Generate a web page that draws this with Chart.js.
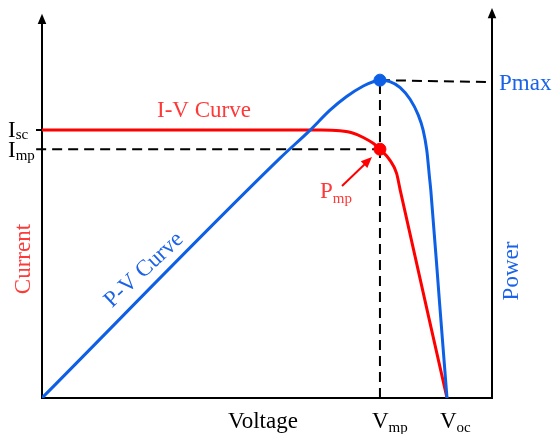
<!DOCTYPE html>
<html>
<head>
<meta charset="utf-8">
<script src="https://cdn.jsdelivr.net/npm/chart.js@4"></script>
<style>
  html, body { margin: 0; padding: 0; background: #fff; }
  #wrap { width: 556px; height: 434px; }
</style>
</head>
<body>
<div id="wrap"><canvas id="chartcanvas"></canvas></div>
<script>
// voltage / current (I-V) and voltage / power (P-V), arbitrary units 0..100
var voltIV    = [0, 62.0, 66.2, 69.2, 71.4, 73.6, 75.1, 77.3, 78.8, 79.6, 90];
var currentIV = [68.7, 68.7, 68.5, 67.9, 66.8, 65.3, 63.8, 61.0, 57.6, 53.3, 0];

var voltPV  = [0, 52.9, 59.6, 64.0, 67.7, 71.4, 73.6, 75.1, 77.3, 79.6, 81.8, 83.6, 84.7, 85.5, 86.1, 86.4, 88.3, 90];
var powerPV = [0, 61.5, 68.7, 73.8, 77.3, 80.0, 81.1, 81.5, 81.1, 79.6, 76.6, 72.6, 68.7, 63.6, 56.7, 53.3, 25.1, 0];

var Vmp = 75.1, Voc = 90, Isc = 68.7, Imp = 63.8, Pmax = 81.5, PmaxEnd = 81.0;

var RED = "#ff0000", BLUE = "#0d5fe6", TRED = "#ff3838", TBLUE = "#1a63e8";
var SERIF = "'Liberation Serif', 'Times New Roman', serif";

function pts(xs, ys) {
	var out = [];
	for (var i in xs) out.push({x: xs[i], y: ys[i]});
	return out;
}

function arrow(ctx, x1, y1, x2, y2, size) {
	var a = Math.atan2(y2 - y1, x2 - x1);
	ctx.beginPath();
	ctx.moveTo(x2, y2);
	ctx.lineTo(x2 - size * Math.cos(a - 0.4), y2 - size * Math.sin(a - 0.4));
	ctx.lineTo(x2 - size * Math.cos(a + 0.4), y2 - size * Math.sin(a + 0.4));
	ctx.closePath();
	ctx.fill();
}

function sub(ctx, main, small, x, y, color, big, sm, drop) {
	ctx.fillStyle = color;
	ctx.font = big + "px " + SERIF;
	ctx.fillText(main, x, y);
	var w = ctx.measureText(main).width;
	ctx.font = sm + "px " + SERIF;
	ctx.fillText(small, x + w, y + drop);
}

var axesPlugin = {
	id: "axes",
	beforeDatasetsDraw: function(chart) {
		var ctx = chart.ctx, x = chart.scales.x, y = chart.scales.y;
		var x0 = x.getPixelForValue(0), x1 = x.getPixelForValue(100);
		var y0 = y.getPixelForValue(0);
		var yl = y.getPixelForValue(98.5), yr = y.getPixelForValue(100);
		ctx.save();
		ctx.strokeStyle = "#000";
		ctx.fillStyle = "#000";
		ctx.lineWidth = 2;
		ctx.beginPath();
		ctx.moveTo(x0, yl + 8); ctx.lineTo(x0, y0);
		ctx.lineTo(x1, y0);
		ctx.lineTo(x1, yr + 8);
		// Isc tick
		var yi = y.getPixelForValue(Isc);
		ctx.moveTo(x0 - 6, yi); ctx.lineTo(x0, yi);
		ctx.stroke();
		arrow(ctx, x0, yl + 12, x0, yl, 11);
		arrow(ctx, x1, yr + 12, x1, yr, 11);
		ctx.restore();
	},
	afterDraw: function(chart) {
		var ctx = chart.ctx, x = chart.scales.x, y = chart.scales.y;
		ctx.save();
		ctx.textBaseline = "alphabetic";
		ctx.textAlign = "left";

		sub(ctx, "I", "sc", 8, y.getPixelForValue(Isc) + 7, "#000", 23, 15, 2);
		sub(ctx, "I", "mp", 8, y.getPixelForValue(Imp) + 8, "#000", 23, 15, 3);

		sub(ctx, "V", "mp", x.getPixelForValue(Vmp) - 8, 428, "#000", 23, 15, 4);
		sub(ctx, "V", "oc", x.getPixelForValue(Voc) - 7, 428, "#000", 23, 15, 4);

		ctx.fillStyle = "#000";
		ctx.font = "23px " + SERIF;
		ctx.fillText("Voltage", 228, 428);

		ctx.fillStyle = TRED;
		ctx.fillText("I-V Curve", 157, 117);

		ctx.fillStyle = TBLUE;
		ctx.fillText("Pmax", 499, 90);

		sub(ctx, "P", "mp", 320, 198, TRED, 23, 15, 5);

		// arrow to Pmp
		ctx.strokeStyle = RED;
		ctx.fillStyle = RED;
		ctx.lineWidth = 2;
		ctx.beginPath();
		ctx.moveTo(342, 186);
		ctx.lineTo(366, 163);
		ctx.stroke();
		arrow(ctx, 342, 186, 372, 157, 12);

		ctx.font = "23px " + SERIF;
		ctx.textAlign = "center";
		ctx.textBaseline = "middle";

		ctx.save();
		ctx.translate(24, 259);
		ctx.rotate(-Math.PI / 2);
		ctx.fillStyle = TRED;
		ctx.fillText("Current", 0, 0);
		ctx.restore();

		ctx.save();
		ctx.translate(512, 271);
		ctx.rotate(-Math.PI / 2);
		ctx.fillStyle = TBLUE;
		ctx.fillText("Power", 0, 0);
		ctx.restore();

		ctx.save();
		ctx.translate(144, 270);
		ctx.rotate(-43 * Math.PI / 180);
		ctx.fillStyle = TBLUE;
		ctx.fillText("P-V Curve", 0, 0);
		ctx.restore();

		ctx.restore();
	}
};

var dashStyle = {
	showLine: true, borderColor: "#000", borderWidth: 2, borderDash: [10, 6],
	pointRadius: 0, fill: false, clip: false
};

var chartdata = {
	datasets: [
		Object.assign({ label: "Imp", data: [{x: -1.3, y: Imp}, {x: Vmp, y: Imp}], order: 5 }, dashStyle),
		Object.assign({ label: "Vmp", data: [{x: Vmp, y: 0}, {x: Vmp, y: Pmax}], order: 5 }, dashStyle),
		Object.assign({ label: "Pmax", data: [{x: Vmp, y: Pmax}, {x: 100, y: PmaxEnd}], order: 5 }, dashStyle),
		{
			label: "I-V Curve",
			data: pts(voltIV, currentIV),
			showLine: true,
			borderColor: RED,
			borderWidth: 3,
			pointRadius: 0,
			cubicInterpolationMode: "monotone",
			fill: false,
			order: 3
		},
		{
			label: "P-V Curve",
			data: pts(voltPV, powerPV),
			yAxisID: "y1",
			showLine: true,
			borderColor: BLUE,
			borderWidth: 3,
			pointRadius: 0,
			cubicInterpolationMode: "monotone",
			fill: false,
			order: 2
		},
		{
			label: "Pmp",
			data: [{x: Vmp, y: Imp}],
			backgroundColor: RED,
			borderColor: RED,
			pointRadius: 6,
			order: 1
		},
		{
			label: "Pmax point",
			data: [{x: Vmp, y: Pmax}],
			yAxisID: "y1",
			backgroundColor: BLUE,
			borderColor: BLUE,
			pointRadius: 6,
			order: 1
		}
	]
};

var ctx = document.getElementById("chartcanvas");

var PVGraph = new Chart(ctx, {
	type: "scatter",
	data: chartdata,
	options: {
		responsive: true,
		maintainAspectRatio: false,
		animation: false,
		layout: { padding: { left: 42, right: 64, top: 8, bottom: 36 } },
		plugins: {
			legend: { display: false },
			tooltip: { enabled: false }
		},
		scales: {
			x: { type: "linear", min: 0, max: 100, display: false },
			y: { type: "linear", min: 0, max: 100, display: false },
			y1: { type: "linear", min: 0, max: 100, display: false, position: "right" }
		}
	},
	plugins: [axesPlugin]
});
</script>
</body>
</html>
